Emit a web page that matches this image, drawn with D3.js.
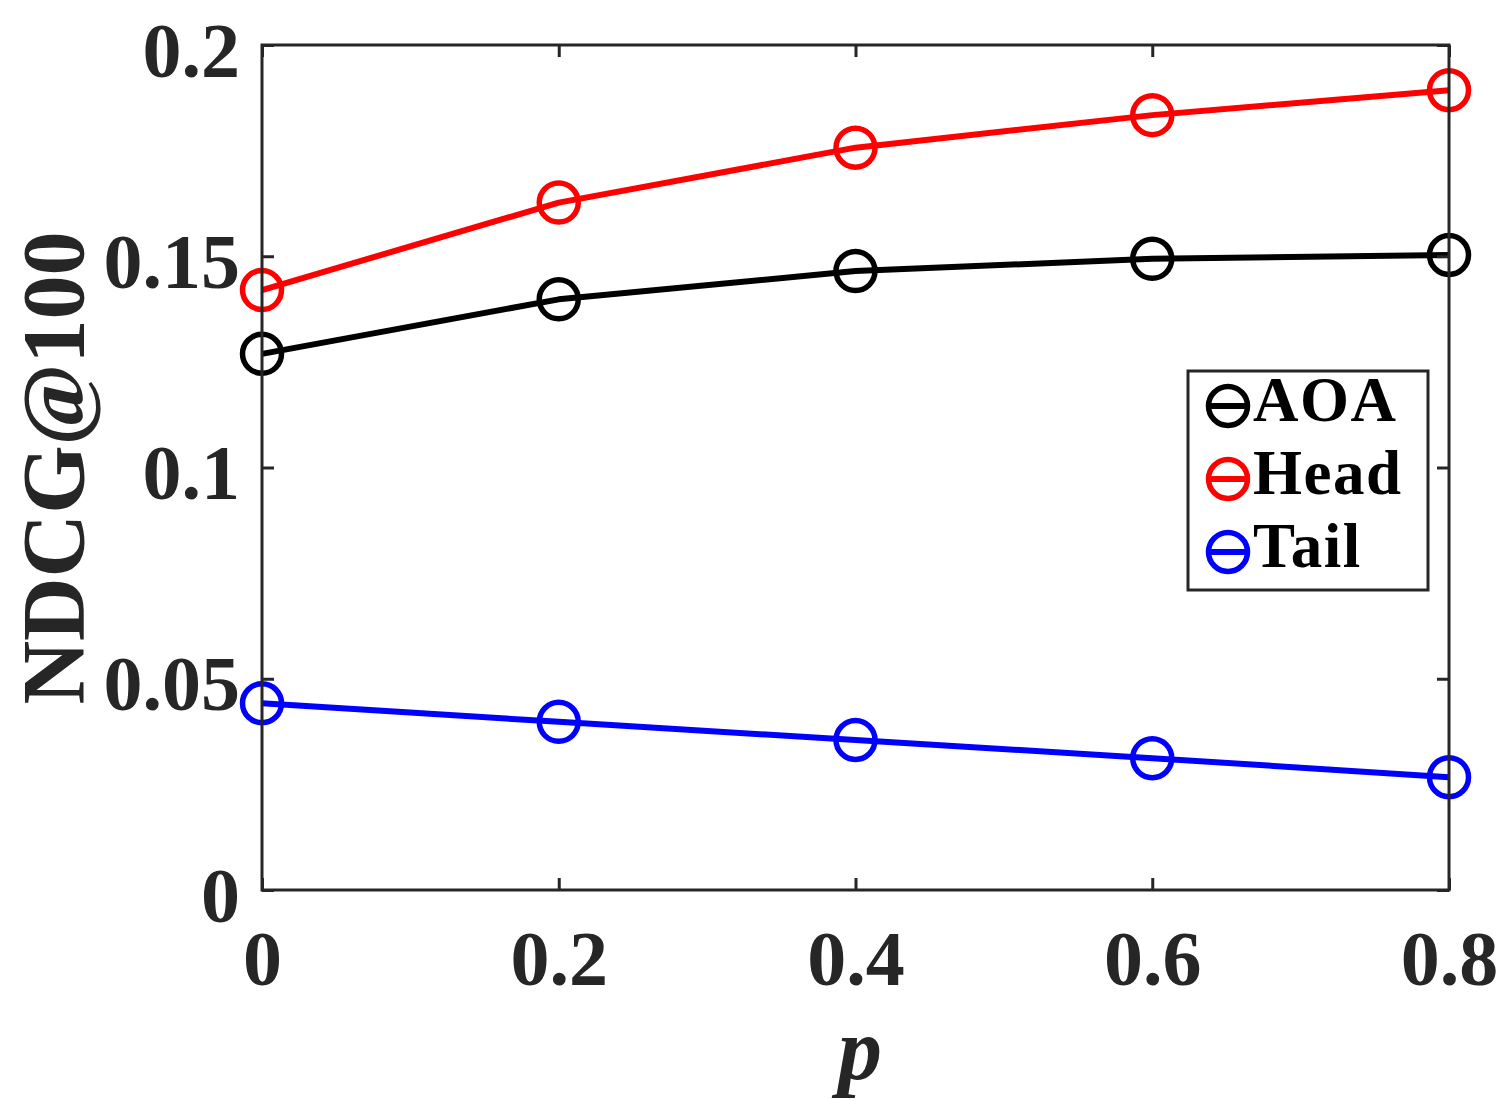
<!DOCTYPE html>
<html>
<head>
<meta charset="utf-8">
<script src="https://cdn.jsdelivr.net/npm/d3@7"></script>
<style>
  html, body { margin: 0; padding: 0; background: #fff; }
  svg { display: block; }
</style>
</head>
<body>
<svg id="chart" width="1500" height="1100"></svg>
<script>
// ---- data ----
const xValues = [0, 0.2, 0.4, 0.6, 0.8];
const aoaValues  = [0.1269, 0.1398, 0.1465, 0.1494, 0.1503];
const headValues = [0.1420, 0.1627, 0.1757, 0.1834, 0.1893];
const tailValues = [0.0442, 0.0398, 0.0355, 0.0312, 0.0267];
const seriesNames = ["AOA", "Head", "Tail"];
const seriesColors = ["#000000", "#ff0000", "#0000ff"];
const xTicks = [0, 0.2, 0.4, 0.6, 0.8];
const xTickLabels = ["0", "0.2", "0.4", "0.6", "0.8"];
const yTicks = [0, 0.05, 0.1, 0.15, 0.2];
const yTickLabels = ["0", "0.05", "0.1", "0.15", "0.2"];
const xLabel = "p";
const yLabel = "NDCG@100";

const series = [aoaValues, headValues, tailValues].map((vals, i) => ({
  name: seriesNames[i], color: seriesColors[i],
  points: vals.map((v, j) => ({x: xValues[j], y: v}))
}));

// ---- layout ----
const L = 262, R = 1449, T = 45, B = 890;
const axisColor = "#262626";
const font = "'Liberation Serif', 'Times New Roman', serif";

const svg = d3.select("#chart");
const x = d3.scaleLinear().domain([0, 0.8]).range([L, R]);
const y = d3.scaleLinear().domain([0, 0.2]).range([B, T]);

// ---- series ----
const line = d3.line().x(d => x(d.x)).y(d => y(d.y));
const g = svg.append("g");
series.forEach(s => {
  g.append("path").datum(s.points)
    .attr("d", line).attr("fill", "none")
    .attr("stroke", s.color).attr("stroke-width", 6)
    .attr("stroke-linejoin", "round");
  g.selectAll(null).data(s.points).enter().append("circle")
    .attr("cx", d => x(d.x)).attr("cy", d => y(d.y)).attr("r", 19.5)
    .attr("fill", "none").attr("stroke", s.color).attr("stroke-width", 5.5);
});

// ---- axes (box with inward ticks on all sides) ----
const tickLen = 12;
const axB = d3.axisBottom(x).tickValues(xTicks).tickSize(-tickLen).tickFormat((d, i) => xTickLabels[i]);
const axT = d3.axisTop(x).tickValues(xTicks).tickSize(-tickLen).tickFormat("");
const axL = d3.axisLeft(y).tickValues(yTicks).tickSize(-tickLen).tickFormat((d, i) => yTickLabels[i]);
const axR = d3.axisRight(y).tickValues(yTicks).tickSize(-tickLen).tickFormat("");

function style(sel) {
  sel.select(".domain").remove();
  sel.selectAll(".tick line").attr("stroke", axisColor).attr("stroke-width", 3);
  sel.selectAll(".tick text").attr("fill", axisColor)
    .style("font-family", font).style("font-weight", "bold").style("font-size", "78px");
}
const gB = svg.append("g").attr("transform", `translate(0,${B})`).call(axB).call(style);
gB.selectAll(".tick text").attr("y", 95).attr("dy", null);
const gT = svg.append("g").attr("transform", `translate(0,${T})`).call(axT).call(style);
const gL = svg.append("g").attr("transform", `translate(${L},0)`).call(axL).call(style);
gL.selectAll(".tick text").attr("x", -22).attr("dy", null).attr("y", 31);
const gR = svg.append("g").attr("transform", `translate(${R},0)`).call(axR).call(style);

svg.append("rect").attr("x", L).attr("y", T).attr("width", R - L).attr("height", B - T)
  .attr("fill", "none").attr("stroke", axisColor).attr("stroke-width", 3);

// ---- axis labels ----
svg.append("text").text(yLabel)
  .attr("transform", `translate(83,468) rotate(-90)`)
  .attr("text-anchor", "middle").attr("fill", axisColor)
  .style("font-family", font).style("font-weight", "bold").style("font-size", "88px");
svg.append("text").text(xLabel)
  .attr("x", 860).attr("y", 1079)
  .attr("text-anchor", "middle").attr("fill", axisColor)
  .style("font-family", font).style("font-weight", "bold").style("font-style", "italic").style("font-size", "88px");

// ---- legend ----
const lg = svg.append("g");
lg.append("rect").attr("x", 1188).attr("y", 371).attr("width", 240).attr("height", 219)
  .attr("fill", "#fff").attr("stroke", axisColor).attr("stroke-width", 3);
const legY = [406, 479, 552];
series.forEach((s, i) => {
  const cy = legY[i];
  lg.append("line").attr("x1", 1206).attr("x2", 1250).attr("y1", cy).attr("y2", cy)
    .attr("stroke", s.color).attr("stroke-width", 6);
  lg.append("circle").attr("cx", 1228).attr("cy", cy).attr("r", 19.5)
    .attr("fill", "none").attr("stroke", s.color).attr("stroke-width", 5.5);
  lg.append("text").text(s.name).attr("x", 1253).attr("y", cy + 15)
    .attr("fill", "#000")
    .style("font-family", font).style("font-weight", "bold").style("font-size", "63px")
    .style("letter-spacing", "1.5px");
});
</script>
</body>
</html>
